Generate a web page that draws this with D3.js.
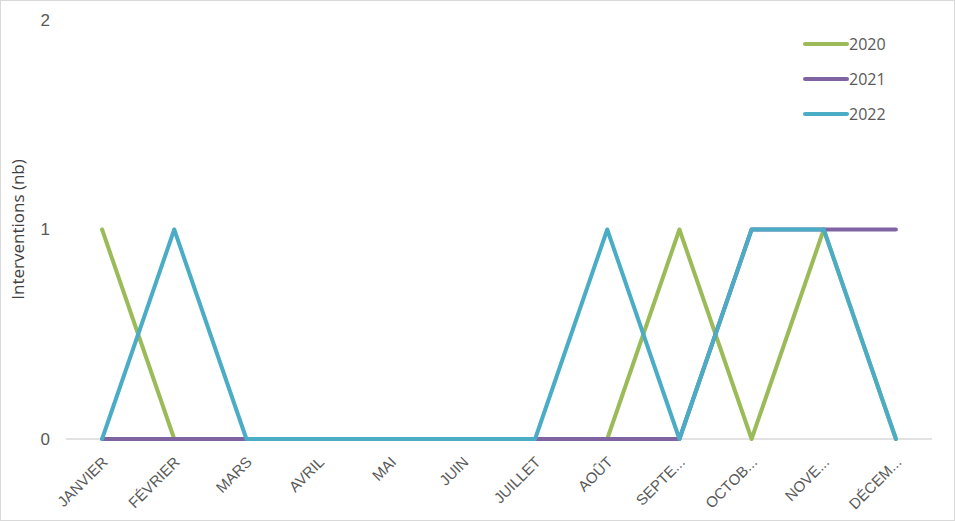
<!DOCTYPE html>
<html>
<head>
<meta charset="utf-8">
<script src="https://cdn.jsdelivr.net/npm/d3@7"></script>
<style>
  body { margin: 0; background: #fff; }
  svg { font-family: 'Open Sans', 'Noto Sans', sans-serif; }
</style>
</head>
<body>
<svg id="chart" width="955" height="521"></svg>
<script>
const months = ['JANVIER', 'FÉVRIER', 'MARS', 'AVRIL', 'MAI', 'JUIN', 'JUILLET', 'AOÛT', 'SEPTE...', 'OCTOB...', 'NOVE...', 'DÉCEM...']
const years = ['2020', '2021', '2022']
const values2020 = [1, 0, 0, 0, 0, 0, 0, 0, 1, 0, 1, 0]
const values2021 = [0, 0, 0, 0, 0, 0, 0, 0, 0, 1, 1, 1]
const values2022 = [0, 1, 0, 0, 0, 0, 0, 1, 0, 1, 1, 0]
const yTicks = [0, 1, 2]
const colors = ['#9bbb59', '#8064a2', '#4bacc6']

const series = [values2020, values2021, values2022].map((v, i) => ({ key: years[i], values: v, color: colors[i] }))

const svg = d3.select('#chart')
const margin = { left: 66, right: 23, top: 20, bottom: 82 }
const width = 955, height = 521

svg.append('rect')
  .attr('x', 0.5).attr('y', 0.5)
  .attr('width', width - 1).attr('height', height - 1)
  .attr('fill', '#fff').attr('stroke', '#d9d9d9')

const x = d3.scalePoint()
  .domain(months)
  .range([margin.left, width - margin.right])
  .padding(0.5)

const y = d3.scaleLinear()
  .domain([0, 2])
  .range([height - margin.bottom, margin.top])

// x axis
const xAxis = svg.append('g')
  .attr('transform', `translate(0,${y(0)})`)
  .call(d3.axisBottom(x).tickSize(0))
xAxis.select('.domain').attr('stroke', '#d9d9d9').attr('stroke-width', 1.5)
  .attr('d', `M${margin.left},0H${width - margin.right}`)
xAxis.selectAll('text')
  .attr('fill', '#595959')
  .attr('font-size', 15)
  .attr('text-anchor', 'end')
  .attr('x', 0)
  .attr('y', 0)
  .attr('dy', 0)
  .attr('transform', 'translate(6,24) rotate(-45)')

// y axis
const yAxis = svg.append('g')
  .attr('transform', `translate(${margin.left},0)`)
  .call(d3.axisLeft(y).tickValues(yTicks).tickFormat(d3.format('d')).tickSize(0).tickPadding(16))
yAxis.select('.domain').remove()
yAxis.selectAll('text').attr('fill', '#595959').attr('font-size', 17)

svg.append('text')
  .attr('transform', `translate(24,${y(1)}) rotate(-90)`)
  .attr('text-anchor', 'middle')
  .attr('fill', '#404040')
  .attr('font-size', 17)
  .text('Interventions (nb)')

// lines
const line = d3.line()
  .x((d, i) => x(months[i]))
  .y(d => y(d))

svg.append('g').selectAll('path').data(series)
  .enter().append('path')
    .attr('d', d => line(d.values))
    .attr('fill', 'none')
    .attr('stroke', d => d.color)
    .attr('stroke-width', 4)
    .attr('stroke-linejoin', 'round')
    .attr('stroke-linecap', 'round')

// legend
const legend = svg.append('g')
  .attr('transform', 'translate(805,44)')
const items = legend.selectAll('g').data(series)
  .enter().append('g')
    .attr('transform', (d, i) => `translate(0,${i * 35})`)
items.append('line')
  .attr('x1', 0).attr('x2', 42)
  .attr('stroke', d => d.color)
  .attr('stroke-width', 4)
  .attr('stroke-linecap', 'round')
items.append('text')
  .attr('x', 44)
  .attr('dy', '0.35em')
  .attr('fill', '#595959')
  .attr('font-size', 16)
  .text(d => d.key)
</script>
</body>
</html>
